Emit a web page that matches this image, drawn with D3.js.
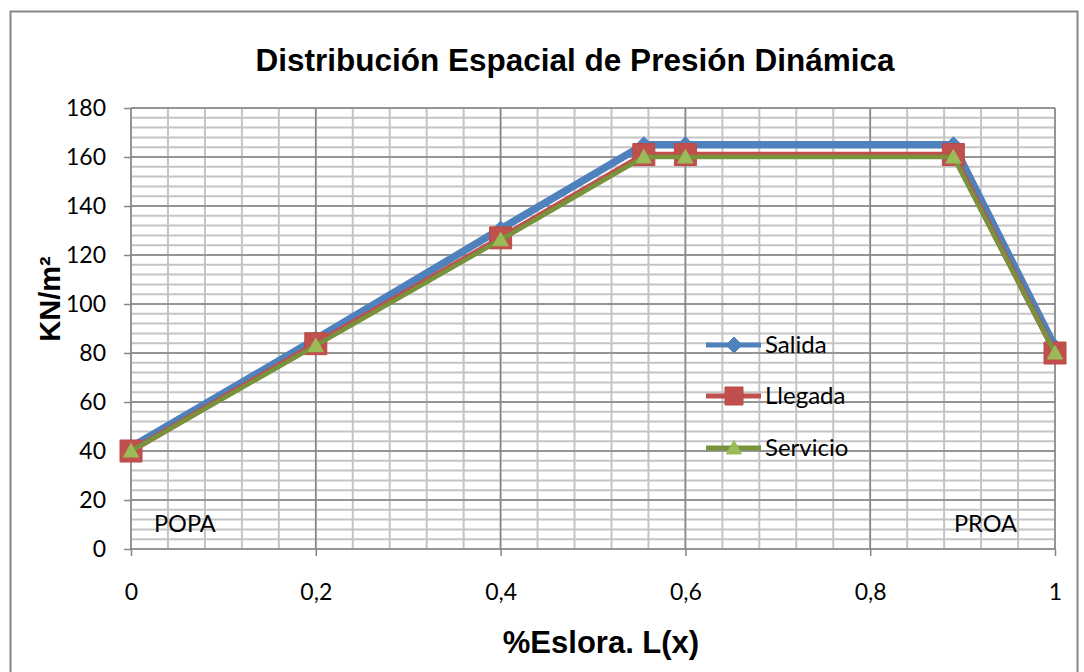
<!DOCTYPE html>
<html>
<head>
<meta charset="utf-8">
<script src="https://cdn.jsdelivr.net/npm/d3@7"></script>
<style>
  html, body { margin: 0; padding: 0; background: #fff; }
  svg { display: block; }
</style>
</head>
<body>
<svg id="chart" width="1084" height="672"></svg>
<script>
// Station positions along the hull (fraction of length)
const xValues = [0, 0.2, 0.4, 0.555, 0.6, 0.89, 1];
// Dynamic pressure per loading condition (kN/m²)
const salida   = [41.5, 85.7, 130.6, 165, 165, 165, 82.5];
const llegada  = [40, 83.8, 127, 161, 161, 161, 80];
const servicio = [40, 83, 126.2, 160, 160, 160, 80];
const seriesNames = ["Salida", "Llegada", "Servicio"];
const xTickLabels = ["0", "0,2", "0,4", "0,6", "0,8", "1"];
const yTickValues = [0, 20, 40, 60, 80, 100, 120, 140, 160, 180];

const svg = d3.select("#chart");
const plot = { left: 131, right: 1055, top: 108, bottom: 549 };

const x = d3.scaleLinear().domain([0, 1]).range([plot.left, plot.right]);
const y = d3.scaleLinear().domain([0, 180]).range([plot.bottom, plot.top]);

// outer chart frame
svg.append("rect")
  .attr("x", 10.5).attr("y", 11.5).attr("width", 1067).attr("height", 700)
  .attr("fill", "#fff").attr("stroke", "#868686").attr("stroke-width", 2);

// title
svg.append("text")
  .attr("x", 575).attr("y", 71).attr("text-anchor", "middle")
  .attr("font-family", "Liberation Sans, Arial, sans-serif")
  .attr("font-weight", "bold").attr("font-size", 31.5).attr("fill", "#000")
  .text("Distribución Espacial de Presión Dinámica");

const grid = svg.append("g");
// minor gridlines
const xMinor = d3.range(0, 1.0001, 0.04);
const yMinor = d3.range(0, 180.001, 4);
grid.selectAll(".vmin").data(xMinor).join("line")
  .attr("x1", d => x(d)).attr("x2", d => x(d))
  .attr("y1", plot.top).attr("y2", plot.bottom)
  .attr("stroke", "#c4c4c4").attr("stroke-width", 2);
grid.selectAll(".hmin").data(yMinor).join("line")
  .attr("x1", plot.left).attr("x2", plot.right)
  .attr("y1", d => y(d)).attr("y2", d => y(d))
  .attr("stroke", "#c4c4c4").attr("stroke-width", 2);
// major gridlines
const xMajor = d3.range(0, 1.0001, 0.2);
grid.selectAll(".vmaj").data(xMajor).join("line")
  .attr("x1", d => x(d)).attr("x2", d => x(d))
  .attr("y1", plot.top).attr("y2", plot.bottom)
  .attr("stroke", "#868686").attr("stroke-width", 1.5);
grid.selectAll(".hmaj").data(yTickValues).join("line")
  .attr("x1", plot.left).attr("x2", plot.right)
  .attr("y1", d => y(d)).attr("y2", d => y(d))
  .attr("stroke", "#868686").attr("stroke-width", 1.5);

// axes
const tickFont = "Lato, 'Open Sans', sans-serif";
const yAxis = d3.axisLeft(y).tickValues(yTickValues).tickSize(7).tickPadding(18).tickFormat(d => d);
const gy = svg.append("g").attr("transform", `translate(${plot.left},0)`).call(yAxis);
const xAxis = d3.axisBottom(x).tickValues(xMajor).tickSize(7).tickPadding(28)
  .tickFormat((d, i) => xTickLabels[i]);
const gx = svg.append("g").attr("transform", `translate(0,${plot.bottom})`).call(xAxis);
[gx, gy].forEach(g => {
  g.selectAll(".tick line").attr("stroke", "#868686").attr("stroke-width", 1.5);
  g.selectAll("text").attr("font-family", tickFont).attr("font-size", 23).attr("fill", "#000");
});
gy.select(".domain").remove();
gx.select(".domain").remove();

// axis titles
svg.append("text")
  .attr("transform", "translate(60,299) rotate(-90)").attr("text-anchor", "middle")
  .attr("font-family", "Liberation Sans, Arial, sans-serif")
  .attr("font-weight", "bold").attr("font-size", 29).attr("fill", "#000")
  .text("KN/m²");
svg.append("text")
  .attr("x", 601).attr("y", 653).attr("text-anchor", "middle")
  .attr("font-family", "Liberation Sans, Arial, sans-serif")
  .attr("font-weight", "bold").attr("font-size", 31).attr("fill", "#000")
  .text("%Eslora. L(x)");

// end annotations
svg.append("text").attr("x", 154).attr("y", 532)
  .attr("font-family", tickFont).attr("font-size", 23.5).attr("fill", "#000").text("POPA");
svg.append("text").attr("x", 954).attr("y", 532)
  .attr("font-family", tickFont).attr("font-size", 23.5).attr("fill", "#000").text("PROA");

// series styling
const series = [
  { name: seriesNames[0], values: salida,   line: "#4F81BD", width: 7.5, marker: "diamond",  fill: "#4F81BD", stroke: "#4F81BD", size: 16 },
  { name: seriesNames[1], values: llegada,  line: "#C0504D", width: 5.5, marker: "square",   fill: "#C0504D", stroke: "#b84a47", size: 22 },
  { name: seriesNames[2], values: servicio, line: "#77933C", width: 4.5, marker: "triangle", fill: "#9BBB59", stroke: "#9BBB59", size: 16 }
];

function markerPath(type, s) {
  const h = s / 2;
  if (type === "diamond") return `M0,${-h}L${h},0L0,${h}L${-h},0Z`;
  if (type === "square") return `M${-h},${-h}H${h}V${h}H${-h}Z`;
  return `M0,${-h * 0.95}L${h * 0.95},${h * 0.75}L${-h * 0.95},${h * 0.75}Z`;
}

const lineGen = d3.line().x(d => x(d[0])).y(d => y(d[1]));
series.forEach(s => {
  const pts = xValues.map((v, i) => [v, s.values[i]]);
  const g = svg.append("g");
  g.append("path").datum(pts).attr("d", lineGen)
    .attr("fill", "none").attr("stroke", s.line).attr("stroke-width", s.width)
    .attr("stroke-linejoin", "round");
  g.selectAll("path.m").data(pts).join("path").attr("class", "m")
    .attr("transform", d => `translate(${x(d[0])},${y(d[1])})`)
    .attr("d", markerPath(s.marker, s.size))
    .attr("fill", s.fill).attr("stroke", s.stroke).attr("stroke-width", 1);
});

// legend
const legendRows = [345, 396, 448];
series.forEach((s, i) => {
  const ly = legendRows[i];
  const g = svg.append("g");
  g.append("line").attr("x1", 706).attr("x2", 761).attr("y1", ly).attr("y2", ly)
    .attr("stroke", s.line).attr("stroke-width", 5);
  g.append("path").attr("transform", `translate(734,${ly})`)
    .attr("d", markerPath(s.marker, s.marker === "square" ? 18 : 16))
    .attr("fill", s.fill).attr("stroke", s.stroke).attr("stroke-width", 1);
  g.append("text").attr("x", 765).attr("y", ly + 8)
    .attr("font-family", tickFont).attr("font-size", 24).attr("fill", "#000").text(s.name);
});
</script>
</body>
</html>
